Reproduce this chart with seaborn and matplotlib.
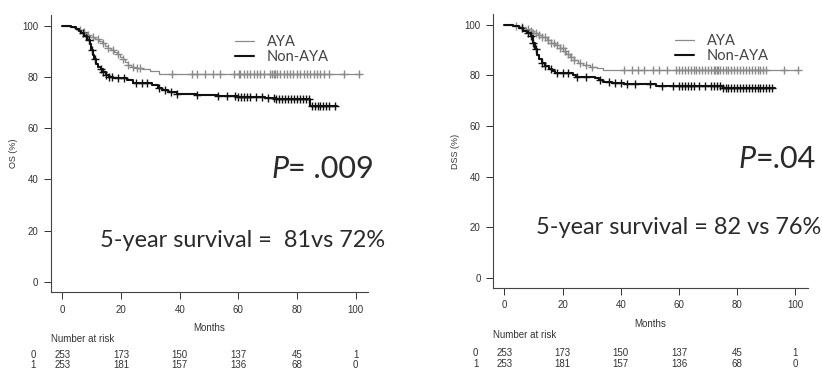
import numpy as np
import pandas as pd
import matplotlib
matplotlib.use("Agg")
import matplotlib.pyplot as plt
import seaborn as sns

# ---- data ----
# OS panel
os_aya_t = [0, 2.5, 4, 5.5, 6.5, 7.5, 8.5, 9.5, 11, 12.5, 13.5, 14.5, 15.5, 16.5, 17.5, 18.5,
            19.5, 20.5, 21.5, 22.5, 23.5, 25, 27, 30, 33, 101.5]
os_aya_s = [100, 99.6, 99.2, 98.4, 97.6, 97.0, 96.2, 95.4, 94.8, 94.2, 93.2, 92.2, 91.4, 90.6, 89.8, 88.8,
            87.8, 86.8, 85.8, 84.8, 84.0, 83.4, 82.9, 82.4, 81.3, 81.3]
os_non_t = [0, 3, 4.5, 5.5, 6.5, 7.5, 8.5, 9.3, 9.8, 10.3, 10.8, 11.5, 12.3, 13, 14, 15, 16, 17.2,
            22, 24, 30.5, 32.5, 34, 36, 39, 46, 53, 60, 69, 73, 84.3, 93.5]
os_non_s = [100, 99.4, 98.8, 98.0, 97.0, 95.8, 94.4, 92.8, 90.5, 88.5, 86.8, 85.2, 84.0, 83.0, 81.8, 80.9, 80.1, 79.4,
            78.8, 77.6, 76.9, 75.8, 74.9, 74.2, 73.5, 73.1, 72.6, 72.2, 71.8, 71.3, 68.6, 68.6]
os_aya_cens = [6, 7.2, 8.9, 10.6, 12.3, 14, 15.7, 17.4, 19.1, 20.8, 22.5, 24.2, 25.4, 26.5, 37.3, 44.1,
               45.8, 48.7, 51.5, 53.8, 58.4, 60.1, 60.6, 61.8, 62.9, 64, 65.2, 66.3, 67.5, 68.6, 70.9,
               71.4, 72, 72.6, 73.2, 74.3, 75.4, 76.6, 77.7, 78.8, 80, 81.1, 82.3, 83.4, 84.5, 85.7,
               86.8, 87.9, 89.1, 90.8, 95.9, 101]
os_non_cens = [7, 8, 9, 10, 11, 13, 14, 15, 16, 17, 19, 21, 25, 27, 29, 33, 35, 37, 39, 46, 53, 56, 59,
               60, 61, 62, 63, 64, 66, 68, 70, 72, 73, 74, 75, 76, 77, 78, 79, 80, 81, 82, 83, 84,
               85, 86, 87, 88, 89, 90, 91, 93]

# DSS panel
dss_aya_t = [0, 3.5, 5.5, 7, 8.5, 10, 11.5, 13, 14.5, 16, 17.5, 19, 20.2, 21.2, 22.5, 23.8, 25.2,
             27, 29.5, 32, 34, 100.5]
dss_aya_s = [100, 99.6, 99.0, 98.2, 97.4, 96.6, 95.8, 95.0, 94.0, 93.0, 92.0, 90.8, 89.6, 88.4, 87.2,
             86.0, 85.0, 84.2, 83.4, 82.8, 82.3, 82.3]
dss_non_t = [0, 3, 5, 6.5, 7.8, 9, 10, 10.6, 11.3, 12, 13, 14, 15.2, 16.5, 17.5, 23.5, 24.5, 31,
             32.5, 34, 37, 41, 52, 75, 93]
dss_non_s = [100, 99.4, 98.6, 97.6, 96.6, 95.4, 93.0, 90.5, 88.0, 86.4, 85.0, 83.8, 82.6, 81.6, 81.0,
             80.0, 79.4, 78.8, 78.0, 77.4, 76.9, 76.5, 76.0, 75.1, 75.1]
dss_aya_cens = [4, 6, 8, 9, 10, 11, 12, 13, 14, 15, 16, 17, 18, 19, 20, 21, 22, 23, 24, 26, 28, 30,
                41, 44, 46, 48, 51, 53, 56, 59, 60, 61, 62, 63, 64, 65, 66, 67, 68, 69, 70, 71, 72,
                72.5, 73, 73.5, 74, 75, 76, 77, 78, 79, 80, 81, 82, 83, 84, 85, 86, 87, 88, 89, 90,
                96, 101]
dss_non_cens = [6, 8, 9, 10, 11, 13, 14, 16, 18, 20, 22, 25, 28, 33, 36, 38, 40, 42, 45, 50, 54, 58,
                60, 61, 62, 63, 64, 65, 67, 69, 71, 72, 73, 74, 75, 76, 77, 78, 79, 80, 81, 82, 83,
                84, 85, 86, 87, 88, 89, 90, 91, 92]

month_ticks = [0, 20, 40, 60, 80, 100]
risk_aya = [253, 173, 150, 137, 45, 1]
risk_non = [253, 181, 157, 136, 68, 0]
groups = ["AYA", "Non-AYA"]

sns.set_style("ticks")
plt.rcParams["font.family"] = ["Liberation Sans", "DejaVu Sans"]

fig = plt.figure(figsize=(8.22, 3.72), dpi=100)
big = ["Lato", "DejaVu Sans"]


def step_at(times, t_knots, s_knots):
    idx = np.searchsorted(t_knots, times, side="right") - 1
    return np.asarray(s_knots)[idx]


def km_panel(ax, aya_t, aya_s, non_t, non_s, aya_c, non_c, ylabel, p_rest, surv_txt,
             p_xy, s_xy, leg_xy, rows_y):
    df = pd.concat([
        pd.DataFrame({"t": aya_t, "s": aya_s, "g": "AYA"}),
        pd.DataFrame({"t": non_t, "s": non_s, "g": "Non-AYA"}),
    ])
    styles = {"AYA": ("#8a8a8a", 0.9), "Non-AYA": ("#111111", 1.5)}
    for g in groups:
        sub = df[df.g == g]
        col, lw = styles[g]
        sns.lineplot(data=sub, x="t", y="s", ax=ax, color=col, linewidth=lw,
                     drawstyle="steps-post", estimator=None, sort=False, label=g)
    for cens, tt, ss, g in [(aya_c, aya_t, aya_s, "AYA"), (non_c, non_t, non_s, "Non-AYA")]:
        col, lw = styles[g]
        sns.scatterplot(x=cens, y=step_at(cens, tt, ss), ax=ax, marker="+", s=36,
                        color=col, linewidth=1.0, legend=False)

    ax.set_xlim(-3.9, 104.3)
    ax.set_ylim(-3.9, 104.2)
    ax.set_xticks(month_ticks)
    ax.set_yticks([0, 20, 40, 60, 80, 100])
    ax.tick_params(labelsize=7, length=5, width=0.7, colors="#333333", pad=4)
    for sp in ["left", "bottom"]:
        ax.spines[sp].set_linewidth(0.8)
        ax.spines[sp].set_color("#444444")
    sns.despine(ax=ax)
    ax.set_xlabel("")
    ax.set_ylabel(ylabel, fontsize=6.5, color="#333333", labelpad=3)

    lines = ax.get_lines()[:2]
    ax.legend(lines, groups, loc="upper left", bbox_to_anchor=leg_xy, frameon=False,
              handlelength=1.3, handletextpad=0.9, labelspacing=0.05,
              labelcolor="#444444", prop={"family": big, "size": 10.5})

    # "P" in italic, the rest upright
    ax.text(p_xy[0], p_xy[1], "P", transform=ax.transAxes, fontsize=22, family=big,
            style="italic", color="#2a2a2a", va="center", ha="right")
    ax.text(p_xy[0], p_xy[1], p_rest, transform=ax.transAxes, fontsize=22, family=big,
            color="#2a2a2a", va="center", ha="left")
    ax.text(s_xy[0], s_xy[1], surv_txt, transform=ax.transAxes, fontsize=16.9, family=big,
            color="#2a2a2a", va="center", ha="left", clip_on=False)

    tr = ax.get_xaxis_transform()
    ax.text(50, -0.13, "Months", transform=tr, ha="center", va="center", fontsize=7, color="#333333")
    ax.text(-3.9, rows_y[0], "Number at risk", transform=tr, ha="left", va="center", fontsize=7,
            color="#333333")
    for row, vals, yy in [("0", risk_aya, rows_y[1]), ("1", risk_non, rows_y[2])]:
        ax.text(-9.9, yy, row, transform=tr, ha="center", va="center", fontsize=7, color="#333333")
        for m, v in zip(month_ticks, vals):
            ax.text(m, yy, str(v), transform=tr, ha="center", va="center", fontsize=7,
                    color="#333333")


ax1 = fig.add_axes([0.062, 0.215, 0.386, 0.745])
km_panel(ax1, os_aya_t, os_aya_s, os_non_t, os_non_s, os_aya_cens, os_non_cens, "OS (%)",
         "= .009", "5-year survival =  81vs 72%",
         (0.748, 0.444), (0.155, 0.187), (0.538, 0.975), (-0.168, -0.228, -0.265))

ax2 = fig.add_axes([0.5998, 0.226, 0.383, 0.736])
km_panel(ax2, dss_aya_t, dss_aya_s, dss_non_t, dss_non_s, dss_aya_cens, dss_non_cens, "DSS (%)",
         "=.04", "5-year survival = 82 vs 76%",
         (0.833, 0.47), (0.137, 0.22), (0.535, 0.975), (-0.173, -0.238, -0.278))

fig.savefig("out.png", dpi=100)
